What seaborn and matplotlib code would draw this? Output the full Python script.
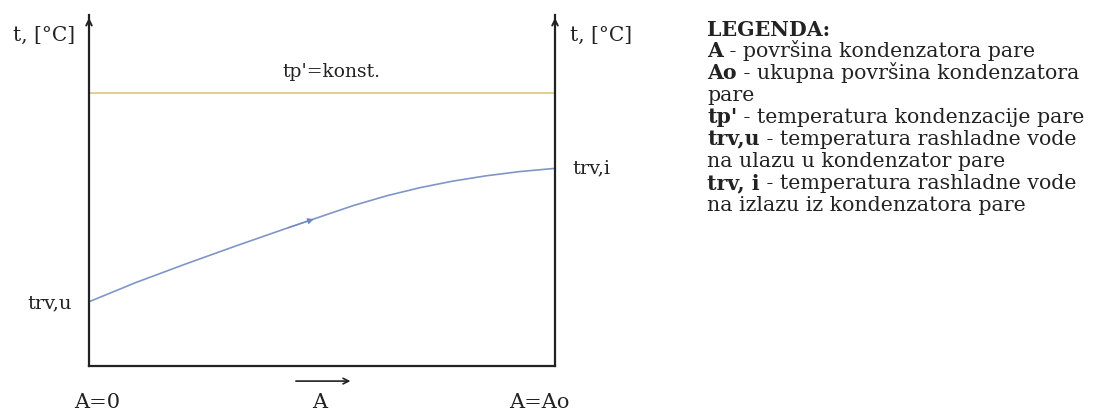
import matplotlib
matplotlib.use('Agg')
import matplotlib.pyplot as plt
import seaborn as sns
import pandas as pd

# surface fraction A/Ao and water temperature (arbitrary units)
area_frac = [0.0, 0.099, 0.206, 0.313, 0.421, 0.496, 0.567, 0.639, 0.710, 0.782, 0.853, 0.925, 1.0]
t_water = [18.3, 23.7, 29.0, 34.1, 39.1, 42.5, 45.7, 48.5, 50.8, 52.7, 54.2, 55.4, 56.3]
t_steam = 77.8

x_labels = ['A=0', 'A', 'A=Ao']
legend_bold = ['A', 'Ao', '', "tp'", 'trv,u', '', 'trv, i', '']
legend_text = [' - površina kondenzatora pare',
               ' - ukupna površina kondenzatora',
               'pare',
               ' - temperatura kondenzacije pare',
               ' - temperatura rashladne vode',
               'na ulazu u kondenzator pare',
               ' - temperatura rashladne vode',
               'na izlazu iz kondenzatora pare']

W, H = 1097, 416
ink = '#222222'

sns.set_style('white')
plt.rcParams['font.family'] = ['DejaVu Serif', 'Liberation Serif']

fig = plt.figure(figsize=(W / 100, H / 100), dpi=100)
ax = fig.add_axes([89 / W, 50 / H, 466 / W, 351 / H])

df = pd.DataFrame({'A': area_frac, 't': t_water})
sns.lineplot(data=df, x='A', y='t', ax=ax, color='#7f96c6', linewidth=1.2)
sns.lineplot(x=[0, 1], y=[t_steam, t_steam], ax=ax, color='#e2cf8c', linewidth=1.4)

# little direction arrow on the water curve
ax.annotate('', xy=(area_frac[5] - 0.008, t_water[5] - 0.4), xytext=(area_frac[4], t_water[4]),
            arrowprops=dict(arrowstyle='-|>', color='#6f86c0', lw=0.8, mutation_scale=9))

ax.set_xlim(0, 1)
ax.set_ylim(0, 100)
ax.set_xticks([])
ax.set_yticks([])
ax.set_xlabel('')
ax.set_ylabel('')
ax.spines['top'].set_visible(False)
for s in ['left', 'right', 'bottom']:
    ax.spines[s].set_color('#222222')
    ax.spines[s].set_linewidth(1.6)

# arrow heads on both vertical axes
for xa in [0, 1]:
    ax.annotate('', xy=(xa, 1.0), xytext=(xa, 0.95), xycoords='axes fraction',
                arrowprops=dict(arrowstyle='->', color='#222222', lw=1.4, mutation_scale=10))

# arrow under the axis pointing to growing A
ax.annotate('', xy=(0.567, -4.3), xytext=(0.438, -4.3), annotation_clip=False,
            arrowprops=dict(arrowstyle='->', color='#222222', lw=1.2, mutation_scale=10))


def px(x, y):
    return x / W, 1 - y / H


fig.text(*px(75, 35), 't, [°C]', fontsize=14.5, color=ink, ha='right', va='center')
fig.text(*px(570, 35), 't, [°C]', fontsize=14.5, color=ink, ha='left', va='center')
fig.text(*px(331, 72), "tp'=konst.", fontsize=13.5, color=ink, ha='center', va='center')
fig.text(*px(72, 303), 'trv,u', fontsize=14, color=ink, ha='right', va='center')
fig.text(*px(572, 168), 'trv,i', fontsize=14, color=ink, ha='left', va='center')
fig.text(*px(97, 403), x_labels[0], fontsize=15, color=ink, ha='center', va='center')
fig.text(*px(320, 403), x_labels[1], fontsize=15, color=ink, ha='center', va='center')
fig.text(*px(539, 403), x_labels[2], fontsize=15, color=ink, ha='center', va='center')

# legend block, bold keys followed by plain description
lx = 707
lfs = 14.8
fig.text(*px(lx, 36), 'LEGENDA:', fontsize=lfs, color=ink, fontweight='bold', ha='left', va='baseline')
for i, (b, t) in enumerate(zip(legend_bold, legend_text)):
    base = 57 + 22 * i
    if b == '':
        fig.text(*px(lx, base), t, fontsize=lfs, color=ink, ha='left', va='baseline')
        continue
    bt = fig.text(*px(lx, base), b, fontsize=lfs, color=ink, fontweight='bold', ha='left', va='baseline')
    ax.annotate(t, xy=(1, 1 - base / H), xycoords=(bt, 'figure fraction'),
                fontsize=lfs, color=ink, ha='left', va='baseline', annotation_clip=False)

plt.savefig('out.png', dpi=100)
